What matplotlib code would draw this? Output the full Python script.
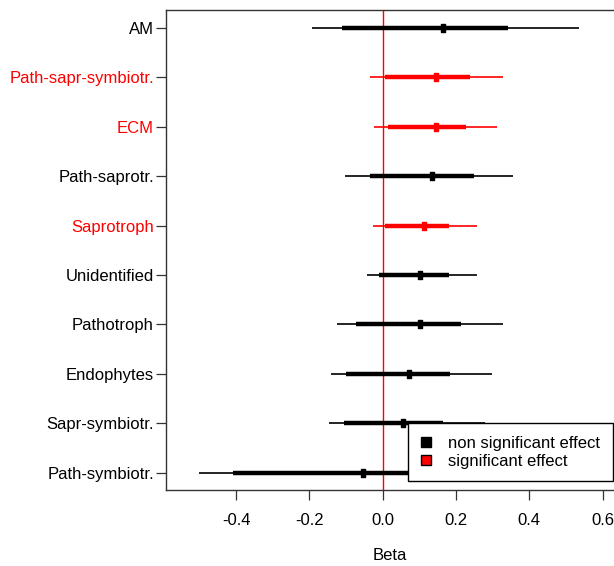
import numpy as np
import matplotlib.pyplot as plt
from matplotlib.path import Path
from matplotlib.patches import Patch

plt.rcParams['font.family'] = ['Liberation Sans', 'DejaVu Sans']

# groups, bottom to top
groups = ["Path-symbiotr.", "Sapr-symbiotr.", "Endophytes", "Pathotroph", "Unidentified",
          "Saprotroph", "Path-saprotr.", "ECM", "Path-sapr-symbiotr.", "AM"]
beta = [-0.055, 0.056, 0.071, 0.101, 0.101, 0.112, 0.134, 0.144, 0.144, 0.164]
thick_lo = [-0.409, -0.107, -0.100, -0.074, -0.011, 0.007, -0.036, 0.015, 0.007, -0.110]
thick_hi = [0.170, 0.164, 0.183, 0.214, 0.180, 0.180, 0.249, 0.227, 0.238, 0.341]
thin_lo = [-0.500, -0.147, -0.141, -0.126, -0.044, -0.026, -0.103, -0.023, -0.034, -0.192]
thin_hi = [0.400, 0.280, 0.297, 0.327, 0.256, 0.256, 0.356, 0.312, 0.327, 0.536]
signif = [False, False, False, False, False, True, False, True, True, False]

xticks = [-0.4, -0.2, 0.0, 0.2, 0.4, 0.6]

fig = plt.figure(figsize=(6.14, 5.66), dpi=100)
ax = fig.add_axes([0.270, 0.1337, 0.730, 0.8481])

# rectangle marker, taller than wide
rect = Path([(-0.29, -0.5), (0.29, -0.5), (0.29, 0.5), (-0.29, 0.5), (-0.29, -0.5)],
            [Path.MOVETO, Path.LINETO, Path.LINETO, Path.LINETO, Path.CLOSEPOLY])

ax.axvline(0, color='red', lw=1.0, zorder=1)
y = np.arange(1, len(groups) + 1)
for i in range(len(groups)):
    c = 'red' if signif[i] else 'black'
    ax.plot([thin_lo[i], thin_hi[i]], [y[i], y[i]], color=c, lw=1.2, solid_capstyle='butt', zorder=2)
    ax.plot([thick_lo[i], thick_hi[i]], [y[i], y[i]], color=c, lw=3.2, solid_capstyle='butt', zorder=3)
    ax.plot(beta[i], y[i], marker=rect, ms=5.5, color=c, mec=c, zorder=4)

ax.set_xlim(-0.592, 0.631)
ax.set_ylim(0.64, 10.36)
ax.set_yticks(y)
ax.set_yticklabels(groups)
for lab, s in zip(ax.get_yticklabels(), signif):
    lab.set_color('red' if s else 'black')
ax.set_xticks(xticks)
ax.set_xticklabels(["%.1f" % v for v in xticks])
ax.tick_params(axis='y', length=7.5, width=0.9, pad=1, labelsize=12, color='#333333')
ax.tick_params(axis='x', length=7.5, width=0.9, pad=9, labelsize=12, color='#333333')
ax.set_xlabel("Beta", fontsize=12, labelpad=14)
for sp in ['left', 'top', 'bottom']:
    ax.spines[sp].set_color('#333333')
    ax.spines[sp].set_linewidth(1.0)
ax.spines['right'].set_visible(False)

handles = [Patch(facecolor='black', edgecolor='black', label='non significant effect'),
           Patch(facecolor='red', edgecolor='black', label='significant effect')]
leg = fig.legend(handles=handles, loc='upper left', bbox_to_anchor=(408.3 / 614, 1 - 423.3 / 566),
                 fontsize=12, frameon=True, fancybox=False, framealpha=1,
                 handlelength=0.6, handleheight=0.6, handletextpad=1.05,
                 borderpad=0.75, borderaxespad=0, labelspacing=0.18)
leg.get_frame().set_edgecolor('black')
leg.get_frame().set_linewidth(1.0)
leg.set_zorder(10)

fig.savefig("out.png", dpi=100)
